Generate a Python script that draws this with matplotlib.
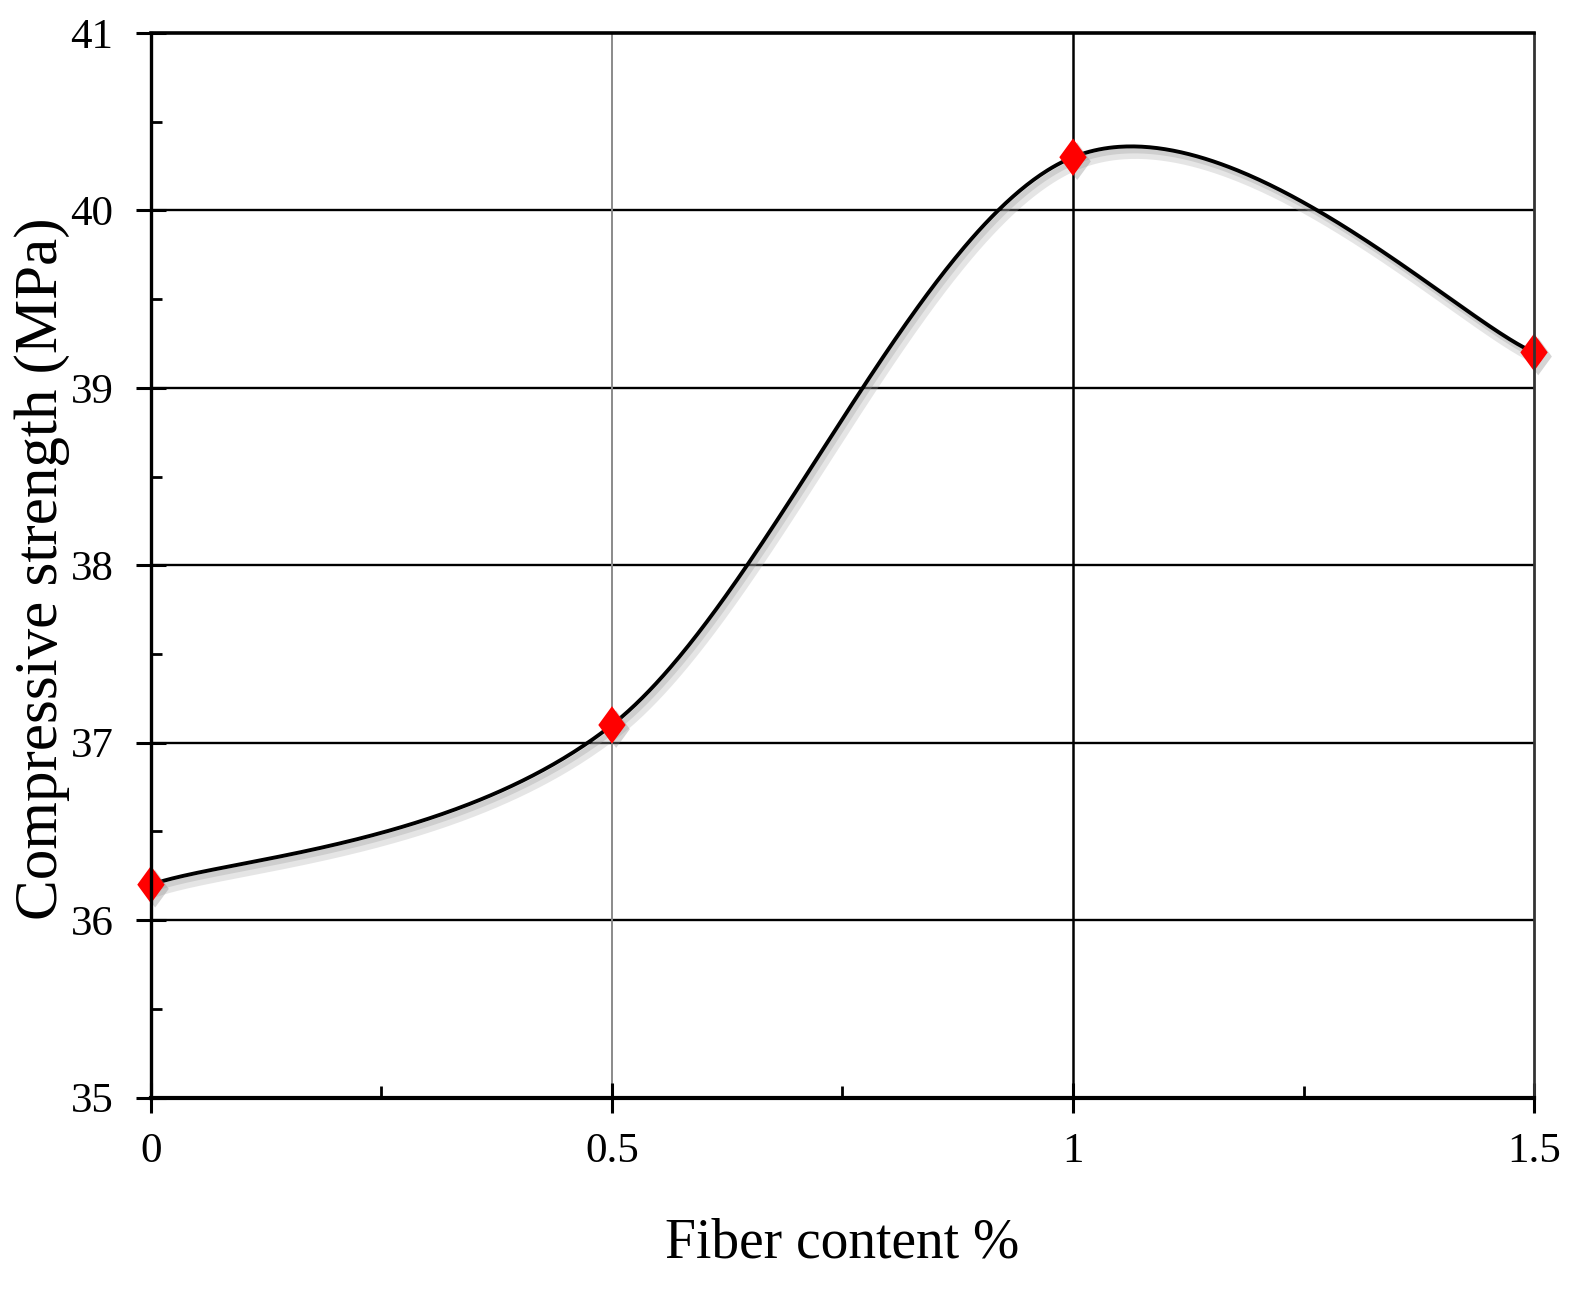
import numpy as np
import matplotlib
matplotlib.use("Agg")
import matplotlib.pyplot as plt
import matplotlib.patheffects as pe
from matplotlib.ticker import MultipleLocator, FixedLocator

# ---- data ----
fiber_content = [0.0, 0.5, 1.0, 1.5]
compressive_strength = [36.2, 37.1, 40.3, 39.2]
x_ticks = [0, 0.5, 1, 1.5]
x_ticklabels = ["0", "0.5", "1", "1.5"]
y_ticks = [35, 36, 37, 38, 39, 40, 41]
x_label = "Fiber content %"
y_label = "Compressive strength (MPa)"

plt.rcParams['font.family'] = ['Liberation Serif', 'DejaVu Serif']


def smooth_curve(xs, ys, n=200):
    """Excel-like smoothed line: Catmull-Rom cubic Bezier through the points."""
    P = np.column_stack([xs, ys]).astype(float)
    pts = [P[0]] + list(P) + [P[-1]]
    out = []
    for i in range(1, len(pts) - 2):
        p0, p1, p2, p3 = pts[i - 1], pts[i], pts[i + 1], pts[i + 2]
        c1 = p1 + (p2 - p0) / 6.0
        c2 = p2 - (p3 - p1) / 6.0
        t = np.linspace(0, 1, n)[:, None]
        seg = ((1 - t) ** 3) * p1 + 3 * ((1 - t) ** 2) * t * c1 + 3 * (1 - t) * t ** 2 * c2 + t ** 3 * p2
        out.append(seg if i == 1 else seg[1:])
    out = np.vstack(out)
    return out[:, 0], out[:, 1]


fig = plt.figure(figsize=(15.89, 12.94), dpi=100)
ax = fig.add_axes([0.095, 0.1518, 0.8704, 0.8227])

ax.set_xlim(x_ticks[0], x_ticks[-1])
ax.set_ylim(y_ticks[0], y_ticks[-1])

# grid lines
for yv in y_ticks[1:-1]:
    ax.axhline(yv, color='black', lw=1.7, zorder=1)
ax.axvline(x_ticks[1], color='#8a8a8a', lw=1.4, zorder=1)
ax.axvline(x_ticks[2], color='black', lw=1.8, zorder=1)

# smoothed curve
sx, sy = smooth_curve(fiber_content, compressive_strength)
ax.plot(sx, sy, color='black', lw=2.8, zorder=3, solid_capstyle='round',
        path_effects=[pe.SimpleLineShadow(offset=(3, -5), shadow_color='#aaaaaa', alpha=0.3, linewidth=8),
                      pe.SimpleLineShadow(offset=(2, -3), shadow_color='#999999', alpha=0.3, linewidth=4),
                      pe.Normal()])

# markers
diamond = [(0, 1), (0.73, 0), (0, -1), (-0.73, 0), (0, 1)]
ax.plot(fiber_content, compressive_strength, linestyle='none', marker=diamond,
        markersize=27, color='#ff0000', markeredgewidth=0, zorder=4, clip_on=False,
        path_effects=[pe.SimplePatchShadow(offset=(3, -3), shadow_rgbFace='#888888', alpha=0.35), pe.Normal()])

# ticks
ax.xaxis.set_major_locator(FixedLocator(x_ticks))
ax.set_xticklabels(x_ticklabels)
ax.xaxis.set_minor_locator(MultipleLocator(0.25))
ax.yaxis.set_major_locator(FixedLocator(y_ticks))
ax.yaxis.set_minor_locator(MultipleLocator(0.5))

ax.tick_params(axis='x', which='major', direction='inout', length=22, width=2.2,
               labelsize=31, pad=14, colors='black')
ax.tick_params(axis='x', which='minor', direction='in', length=9, width=2.0)
ax.tick_params(axis='y', which='major', direction='inout', length=22, width=2.2,
               labelsize=31, pad=16, colors='black')
ax.tick_params(axis='y', which='minor', direction='in', length=8, width=2.0)

# spines
ax.spines['top'].set_linewidth(2.6)
ax.spines['left'].set_linewidth(2.4)
ax.spines['bottom'].set_linewidth(3.0)
ax.spines['right'].set_linewidth(2.0)
ax.spines['right'].set_color('#333333')
for s in ax.spines.values():
    s.set_zorder(5)

ax.set_xlabel(x_label, fontsize=40)
ax.set_ylabel(y_label, fontsize=44)
ax.xaxis.label.set_va('center')
ax.yaxis.label.set_va('center')
ax.xaxis.set_label_coords(0.5, -0.137)
ax.yaxis.set_label_coords(-0.079, 0.497)

fig.savefig("out.png", dpi=100, facecolor='white')
